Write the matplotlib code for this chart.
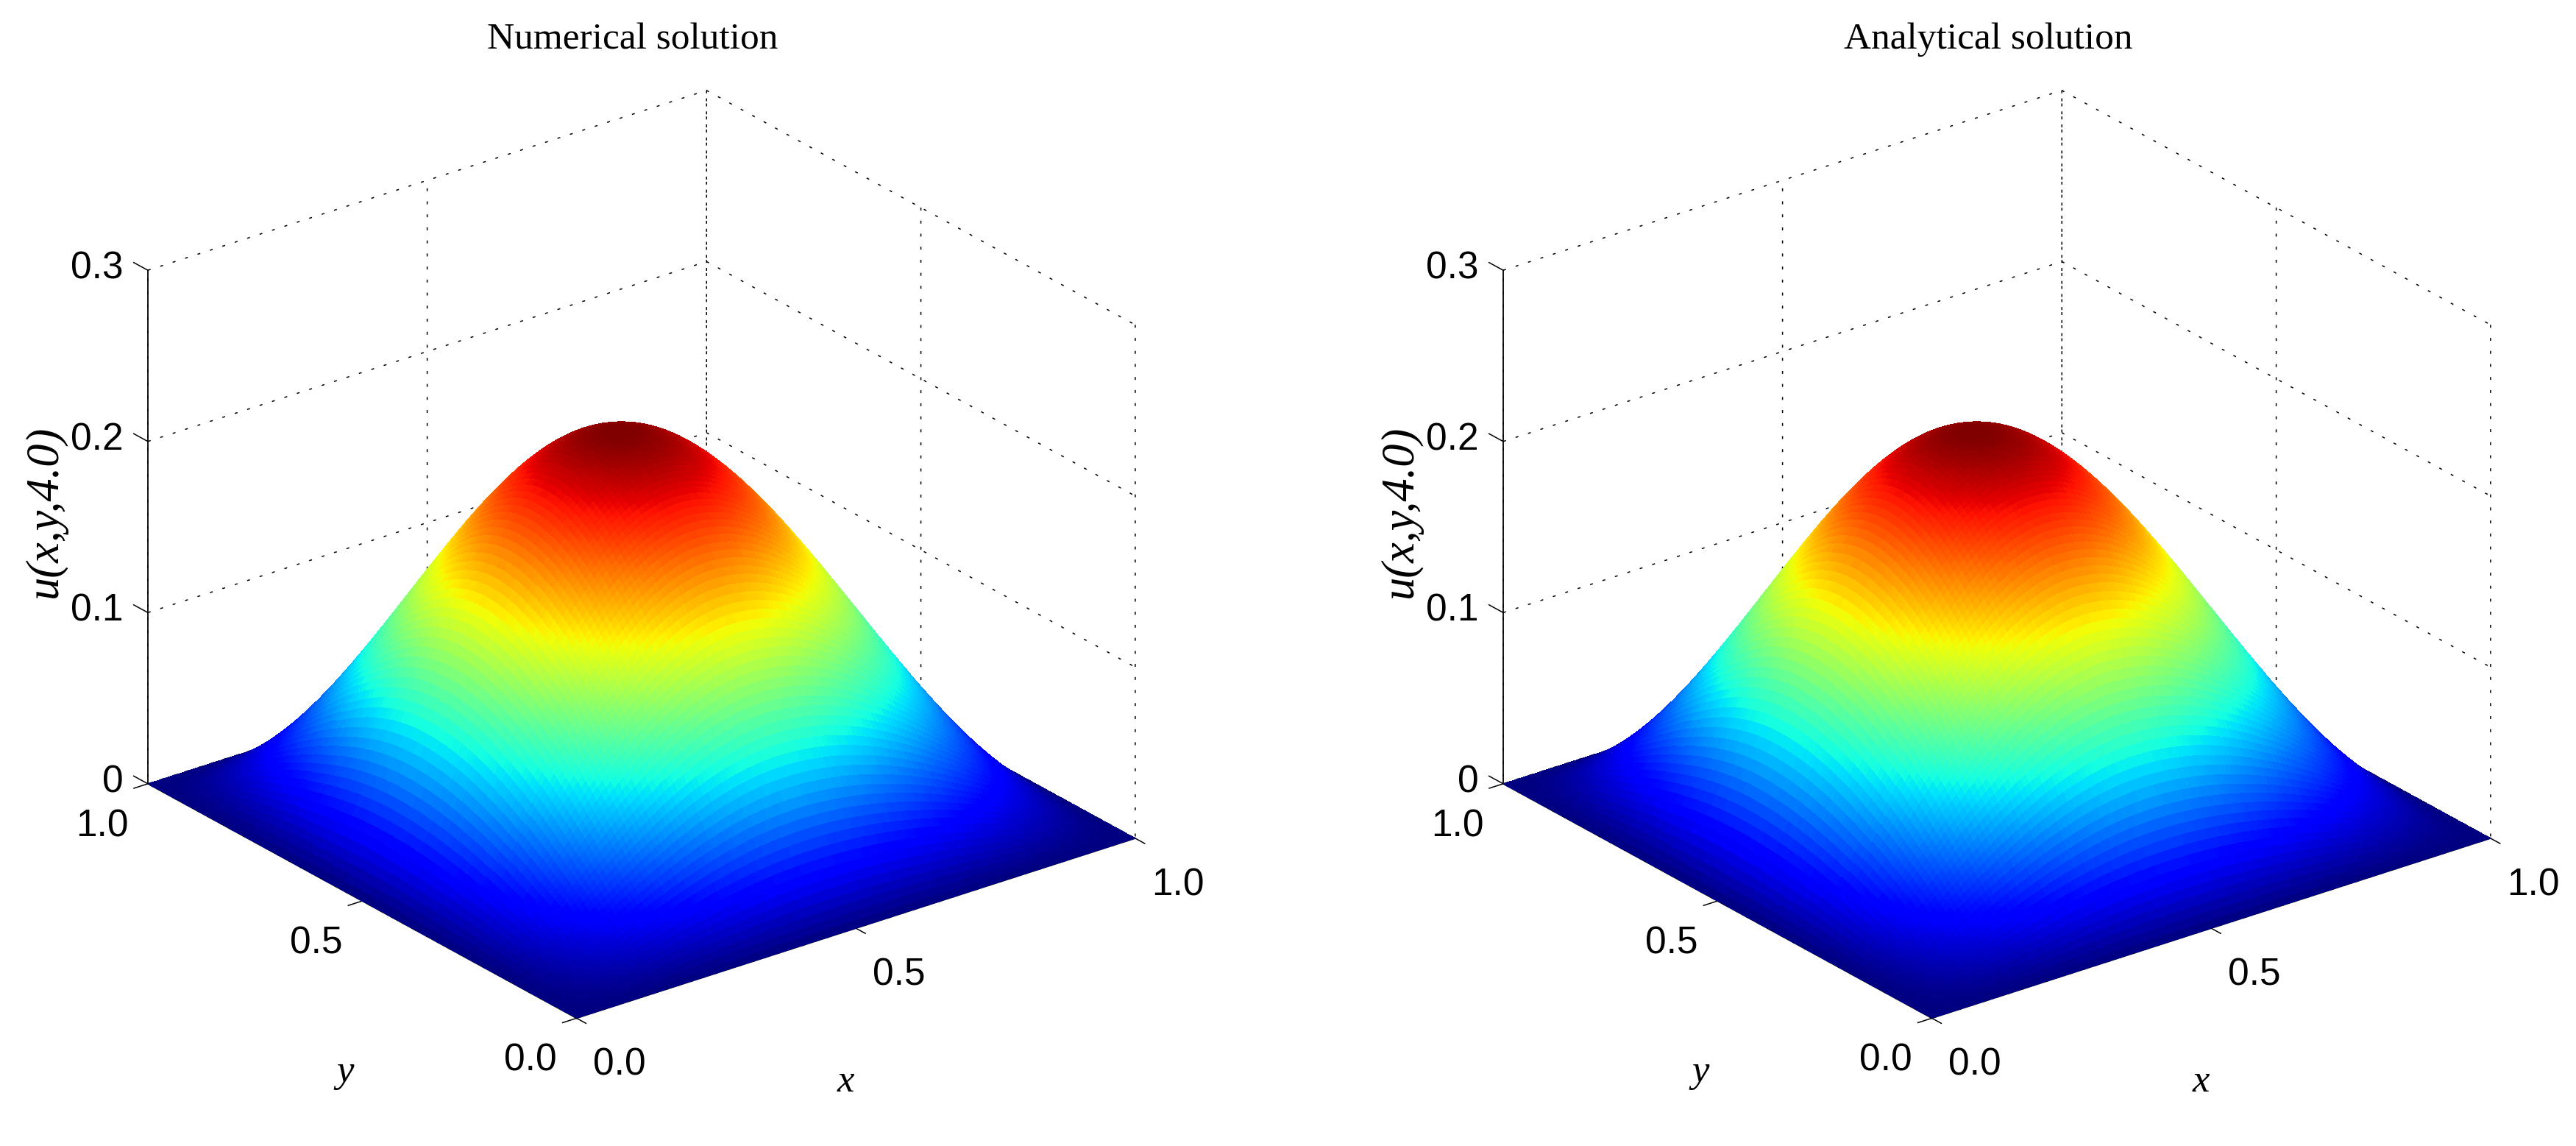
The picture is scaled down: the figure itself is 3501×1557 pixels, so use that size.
import numpy as np
import matplotlib
matplotlib.use('Agg')
import matplotlib.pyplot as plt
from matplotlib.transforms import ScaledTranslation

W_PX = 3501
H_PX = 1557

titles = ['Numerical solution', 'Analytical solution']
peaks = [0.221, 0.221]

x_ticks = [0.0, 0.5, 1.0]
y_ticks = [0.0, 0.5, 1.0]
z_ticks = [0.0, 0.1, 0.2, 0.3]
x_ticklabels = ['0.0', '0.5', '1.0']
y_ticklabels = ['0.0', '0.5', '1.0']
z_ticklabels = ['0', '0.1', '0.2', '0.3']

# bump cross section, x = 0 ... 1 in 120 steps
x_profile = [0.0000, 0.0144, 0.0327, 0.0527, 0.0739, 0.0961, 0.1190, 0.1424, 0.1663, 0.1906,
             0.2153, 0.2401, 0.2652, 0.2904, 0.3156, 0.3409, 0.3661, 0.3913, 0.4164, 0.4414,
             0.4661, 0.4907, 0.5149, 0.5389, 0.5626, 0.5859, 0.6089, 0.6314, 0.6535, 0.6751,
             0.6962, 0.7168, 0.7368, 0.7562, 0.7750, 0.7933, 0.8108, 0.8277, 0.8439, 0.8594,
             0.8741, 0.8881, 0.9014, 0.9138, 0.9255, 0.9364, 0.9464, 0.9556, 0.9640, 0.9715,
             0.9781, 0.9839, 0.9888, 0.9928, 0.9960, 0.9982, 0.9996, 1.0000, 0.9996, 0.9985,
             0.9967, 0.9941, 0.9908, 0.9868, 0.9821, 0.9766, 0.9705, 0.9636, 0.9560, 0.9478,
             0.9388, 0.9292, 0.9189, 0.9080, 0.8964, 0.8842, 0.8714, 0.8579, 0.8439, 0.8293,
             0.8141, 0.7983, 0.7821, 0.7653, 0.7480, 0.7302, 0.7119, 0.6932, 0.6741, 0.6545,
             0.6346, 0.6143, 0.5936, 0.5727, 0.5514, 0.5298, 0.5080, 0.4860, 0.4638, 0.4414,
             0.4188, 0.3961, 0.3733, 0.3505, 0.3276, 0.3048, 0.2820, 0.2592, 0.2366, 0.2141,
             0.1918, 0.1698, 0.1481, 0.1267, 0.1058, 0.0854, 0.0657, 0.0469, 0.0291, 0.0128,
             0.0000]
y_profile = x_profile[::-1]

TICK_FONT = 'Liberation Sans'


def draw_panel(left_px, title, peak):
    size = 1511
    ax = fig.add_axes([left_px / W_PX, 28 / H_PX, size / W_PX, size / H_PX],
                      projection='3d', proj_type='ortho')
    ax.patch.set_alpha(0)
    ax.set_xlim(0, 1, view_margin=0)
    ax.set_ylim(0, 1, view_margin=0)
    ax.set_zlim(0, 0.3, view_margin=0)
    ax.set_box_aspect((1, 1, 0.803))
    ax.view_init(elev=24.8, azim=-127.5)

    xs = np.linspace(0, 1, len(x_profile))
    ys = np.linspace(0, 1, len(y_profile))
    X, Y = np.meshgrid(xs, ys)
    Z = peak * np.outer(y_profile, x_profile)
    ax.plot_surface(X, Y, Z, cmap='jet', vmin=0, vmax=peak, rstride=1, cstride=1,
                    linewidth=0, antialiased=False, shade=False)

    ax.set_xticks(x_ticks)
    ax.set_yticks(y_ticks)
    ax.set_zticks(z_ticks)
    ax.set_xticklabels(x_ticklabels, family=TICK_FONT, fontsize=37, ha='left')
    ax.set_yticklabels(y_ticklabels, family=TICK_FONT, fontsize=37, ha='right')
    ax.set_zticklabels(z_ticklabels, family=TICK_FONT, fontsize=37, ha='right', va='center')
    ax.xaxis.set_tick_params(pad=14)
    ax.yaxis.set_tick_params(pad=12)
    ax.zaxis.set_tick_params(pad=6)

    # z labels sit a bit above their ticks
    lift = ScaledTranslation(0, 25 / 100, fig.dpi_scale_trans)
    for tick in ax.zaxis.get_major_ticks():
        tick.label1.set_transform(tick.label1.get_transform() + lift)

    for axis in (ax.xaxis, ax.yaxis, ax.zaxis):
        axis.set_pane_color((1, 1, 1, 0))
        axis.pane.set_edgecolor((1, 1, 1, 0))
        axis.line.set_color('k')
        axis.line.set_linewidth(1.3)
        axis._axinfo['grid'].update(color='k', linewidth=1.1, linestyle=(0, (2.6, 9)))
        axis._axinfo['tick'].update(inward_factor=0.0, outward_factor=0.0)
    ax.grid(True)

    # tick marks
    for t in x_ticks:
        ax.plot([t, t], [0, -0.022], [0, 0], color='k', lw=1.1)
    for t in y_ticks:
        ax.plot([0, -0.025], [t, t], [0, 0], color='k', lw=1.1)
    for t in z_ticks:
        ax.plot([0, 0], [1, 1.033], [t, t], color='k', lw=1.1)

    offset = left_px - 96
    fig.text((860 + offset) / W_PX, 1 - 54 / H_PX, title, family='Liberation Serif',
             fontsize=37, ha='center', va='center')
    fig.text((62 + offset) / W_PX, 1 - 695 / H_PX, 'u(x,y,4.0)', family='Liberation Serif',
             style='italic', fontsize=45, rotation=90, ha='center', va='center')
    fig.text((469 + offset) / W_PX, 1 - 1457 / H_PX, 'y', family='Liberation Serif',
             style='italic', fontsize=38, ha='center', va='center')
    fig.text((1149 + offset) / W_PX, 1 - 1470 / H_PX, 'x', family='Liberation Serif',
             style='italic', fontsize=38, ha='center', va='center')
    return ax


fig = plt.figure(figsize=(W_PX / 100, H_PX / 100), dpi=100, facecolor='white')
draw_panel(96, titles[0], peaks[0])
draw_panel(96 + 1842, titles[1], peaks[1])

fig.savefig('out.png', dpi=100)
